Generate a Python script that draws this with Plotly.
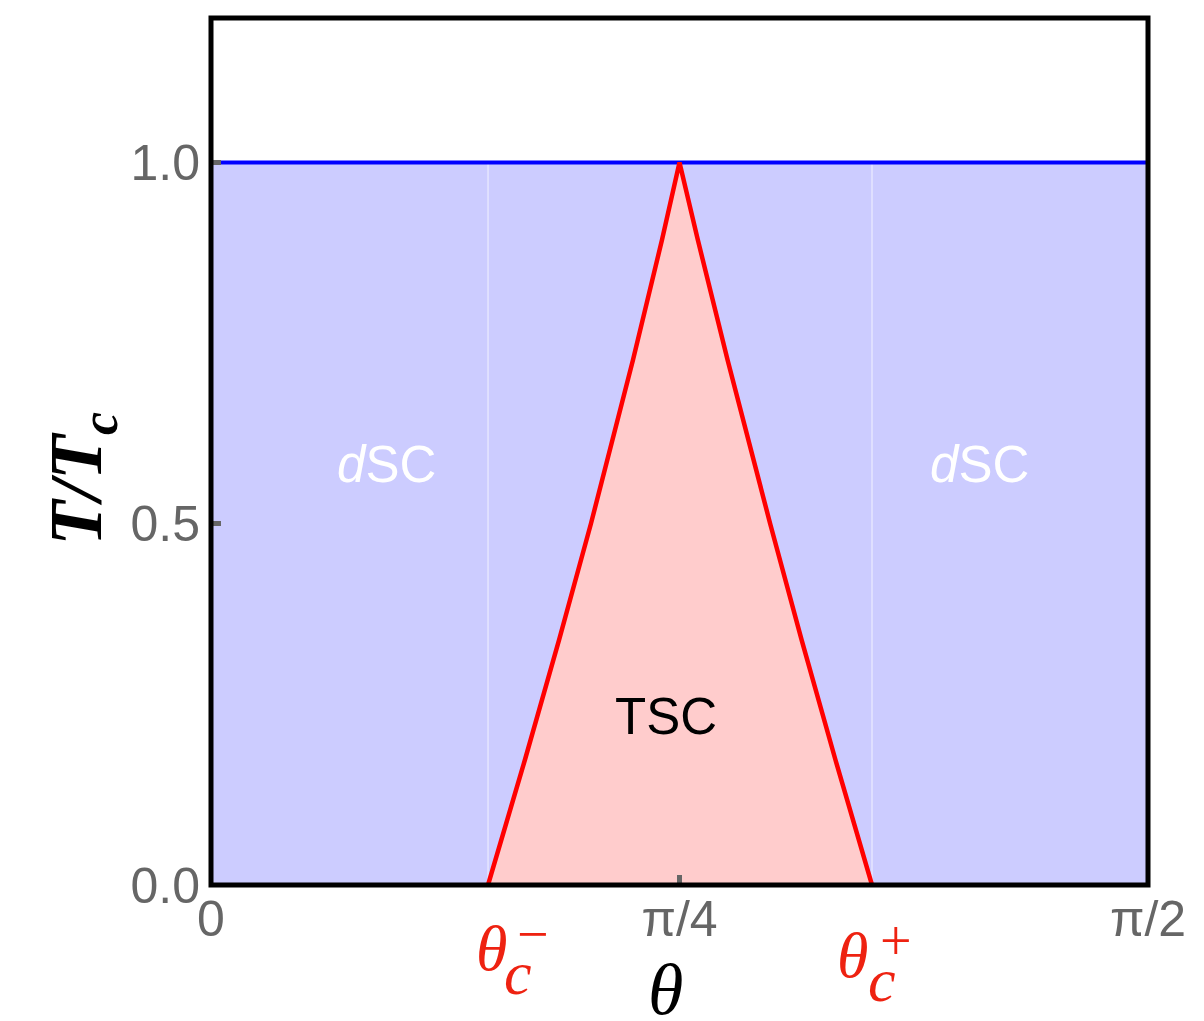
import numpy as np
import plotly.graph_objects as go

HALF_PI = np.pi / 2
QUARTER_PI = np.pi / 4

# Phase boundary of the TSC region: lower-angle side (from θc− up to the apex)
theta_left = [0.4644, 0.5262, 0.5834, 0.6369, 0.7075, 0.7561, QUARTER_PI]
t_left = [0.0, 0.173, 0.339, 0.5, 0.727, 0.893, 1.0]
# upper-angle side (from the apex down to θc+)
theta_right = [QUARTER_PI, 0.8161, 0.8659, 0.9374, 0.9902, 1.0469, 1.1081]
t_right = [1.0, 0.893, 0.727, 0.5, 0.339, 0.173, 0.0]

theta_c_minus = theta_left[0]
theta_c_plus = theta_right[-1]
t_c = 1.0

x_tickvals = [0, QUARTER_PI, HALF_PI]
x_ticktext = ["0", "π/4", "π/2"]
y_tickvals = [0.0, 0.5, 1.0]
y_ticktext = ["0.0", "0.5", "1.0"]

region_text = ["<i>d</i>SC", "<i>d</i>SC", "TSC"]
region_theta = [0.2934, 1.289, 0.7628]
region_t = [0.5817, 0.5817, 0.2327]
region_color = ["white", "white", "black"]

BLUE_FILL = "#CCCCFF"
PINK_FILL = "#FFCCCC"
TICK_GRAY = "#666666"
SANS = "Liberation Sans, Arial, sans-serif"
SERIF = "Liberation Serif, Times New Roman, serif"

fig = go.Figure()

# d-wave superconducting region below Tc
fig.add_trace(go.Scatter(
    x=[0, HALF_PI, HALF_PI, 0, 0], y=[0, 0, t_c, t_c, 0],
    mode="lines", fill="toself", fillcolor=BLUE_FILL,
    line=dict(width=0), hoverinfo="skip", showlegend=False))

# topological superconducting wedge
tsc_x = theta_left + theta_right
tsc_y = t_left + t_right
fig.add_trace(go.Scatter(
    x=tsc_x, y=tsc_y, mode="lines", fill="toself", fillcolor=PINK_FILL,
    line=dict(width=0), hoverinfo="skip", showlegend=False))

# faint mesh lines at the critical angles
fig.add_trace(go.Scatter(
    x=[theta_c_minus, theta_c_minus, None, theta_c_plus, theta_c_plus],
    y=[0, t_c, None, 0, t_c], mode="lines",
    line=dict(color="rgba(255,255,255,0.75)", width=1),
    hoverinfo="skip", showlegend=False))

# Tc line
fig.add_trace(go.Scatter(
    x=[0, HALF_PI], y=[t_c, t_c], mode="lines",
    line=dict(color="#0000FF", width=4), hoverinfo="skip", showlegend=False))

# TSC boundary
fig.add_trace(go.Scatter(
    x=tsc_x, y=tsc_y, mode="lines",
    line=dict(color="#FF0000", width=4.5), hoverinfo="skip", showlegend=False))

axis_common = dict(
    ticks="inside", ticklen=10, tickwidth=5, tickcolor=TICK_GRAY,
    showgrid=False, zeroline=False, showline=False,
    tickfont=dict(family=SANS, size=50, color=TICK_GRAY),
)

fig.update_xaxes(range=[0, HALF_PI], tickmode="array",
                 tickvals=x_tickvals, ticktext=x_ticktext, **axis_common)
fig.update_yaxes(range=[0, 1.2], tickmode="array",
                 tickvals=y_tickvals, ticktext=y_ticktext,
                 ticklabelstandoff=10, **axis_common)

annotations = []
for txt, xv, yv, col in zip(region_text, region_theta, region_t, region_color):
    annotations.append(dict(x=xv, y=yv, xref="x", yref="y", text=txt,
                            showarrow=False,
                            font=dict(family=SANS, size=51, color=col)))

# axis titles
annotations.append(dict(x=QUARTER_PI, y=-0.170, xref="x", yref="paper",
                        xshift=-14, text="<i>θ</i>", showarrow=False,
                        font=dict(family=SERIF, size=72, color="black")))
annotations.append(dict(x=-0.19, y=0.469, xref="paper", yref="paper",
                        text="<b><i>T/T<sub>c</sub></i></b>", textangle=-90,
                        showarrow=False,
                        font=dict(family=SERIF, size=74, color="black")))

# critical-angle labels θc− and θc+ (glyph offsets in px relative to each angle)
RED = "#EE2211"
crit_labels = [
    (theta_c_minus, "−", [3, 30, 45], 0.0),
    (theta_c_plus, "+", [-20, 10, 24], -0.008),
]
for xv, sign, shifts, dy in crit_labels:
    annotations.append(dict(x=xv, y=-0.117 + dy, xref="x", yref="paper",
                            xshift=shifts[0], text="<i>θ</i>", showarrow=False,
                            font=dict(family=SERIF, size=64, color=RED)))
    annotations.append(dict(x=xv, y=-0.143 + dy, xref="x", yref="paper",
                            xshift=shifts[1], text="<i>c</i>", showarrow=False,
                            font=dict(family=SERIF, size=62, color=RED)))
    annotations.append(dict(x=xv, y=-0.095 + dy, xref="x", yref="paper",
                            xshift=shifts[2], text=sign, showarrow=False,
                            font=dict(family=SERIF, size=56, color=RED)))

fig.update_layout(
    width=1204, height=1021,
    margin=dict(l=211, r=56, t=18, b=136),
    plot_bgcolor="white", paper_bgcolor="white",
    annotations=annotations,
    shapes=[dict(type="rect", xref="paper", yref="paper", x0=0, x1=1, y0=0, y1=1,
                 line=dict(color="black", width=5), layer="above")],
)

fig.write_html("out.html")
